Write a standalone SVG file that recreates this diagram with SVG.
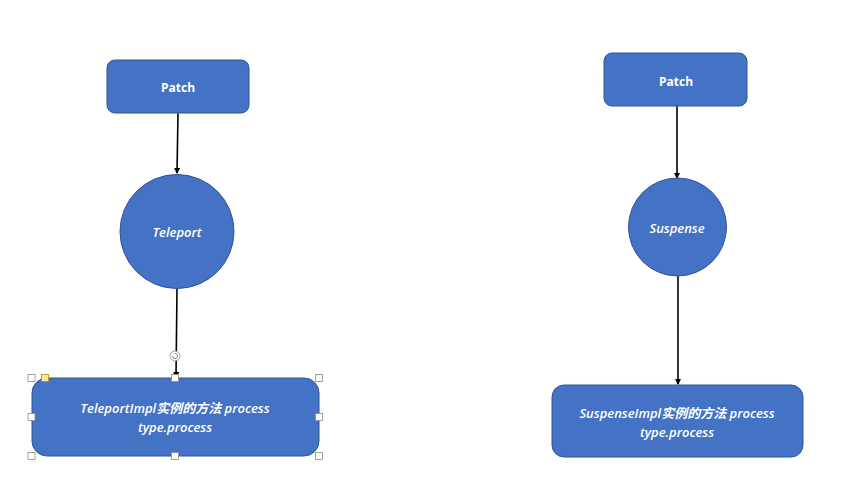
<svg xmlns="http://www.w3.org/2000/svg" width="850" height="496" viewBox="0 0 850 496">
<style>
.box{fill:#4472C4;stroke:#2F5597;stroke-width:1}
.lbl{fill:#fff;font-family:"Open Sans","Liberation Sans","Noto Sans CJK SC",sans-serif;font-size:12px;text-anchor:middle;dominant-baseline:central}
.b{font-weight:bold}
.i{font-style:italic;font-size:13px;font-weight:600}
.edge{stroke:#000;stroke-width:1.6;fill:none}
.h{fill:#fff;stroke:#8c8c8c;stroke-width:0.8}
</style>
<defs>
<marker id="ah" markerWidth="6" markerHeight="6" refX="5" refY="3" orient="auto" markerUnits="userSpaceOnUse">
<path d="M0,0 L6,3 L0,6 z" fill="#000"/>
</marker>
</defs>
<rect width="850" height="496" fill="#fff"/>
<g id="connectors">
<path class="edge" d="M178,113 L177,173" marker-end="url(#ah)"/>
<path class="edge" d="M177,289 L176,377" marker-end="url(#ah)"/>
<path class="edge" d="M677,106 L677,178" marker-end="url(#ah)"/>
<path class="edge" d="M678,275 L678,384" marker-end="url(#ah)"/>
</g>
<g id="patch-left">
<rect class="box" x="107" y="60" width="142" height="53" rx="8"/>
<text class="lbl b" x="178" y="87">Patch</text>
</g>
<g id="teleport">
<circle class="box" cx="177" cy="231.5" r="57"/>
<text class="lbl i" x="177" y="232">Teleport</text>
</g>
<g id="teleport-impl">
<rect class="box" x="32" y="378" width="287" height="78" rx="15"/>
<text class="lbl i" x="175" y="408">TeleportImpl实例的方法 process</text>
<text class="lbl i" x="175" y="427">type.process</text>
</g>
<g id="patch-right">
<rect class="box" x="604" y="53" width="143" height="53" rx="8"/>
<text class="lbl b" x="676" y="81">Patch</text>
</g>
<g id="suspense">
<circle class="box" cx="677.5" cy="227" r="49"/>
<text class="lbl i" x="677" y="228">Suspense</text>
</g>
<g id="suspense-impl">
<rect class="box" x="552" y="385" width="251" height="72" rx="12"/>
<text class="lbl i" x="677" y="413">SuspenseImpl实例的方法 process</text>
<text class="lbl i" x="677" y="432">type.process</text>
</g>
<g id="selection">
<circle class="h" cx="175" cy="356" r="5"/>
<path d="M172.5,356 a2.5,2.5 0 1 0 2.5,-2.5" fill="none" stroke="#666" stroke-width="0.8"/>
<rect class="h" x="28" y="374.5" width="7" height="7"/>
<rect x="41.5" y="374.5" width="7" height="7" fill="#FFE699" stroke="#BF9000" stroke-width="0.8"/>
<rect class="h" x="171.5" y="374.5" width="7" height="7"/>
<rect class="h" x="315.5" y="374.5" width="7" height="7"/>
<rect class="h" x="28" y="413.5" width="7" height="7"/>
<rect class="h" x="315.5" y="413.5" width="7" height="7"/>
<rect class="h" x="28" y="452.5" width="7" height="7"/>
<rect class="h" x="171.5" y="452.5" width="7" height="7"/>
<rect class="h" x="315.5" y="452.5" width="7" height="7"/>
</g>
</svg>
